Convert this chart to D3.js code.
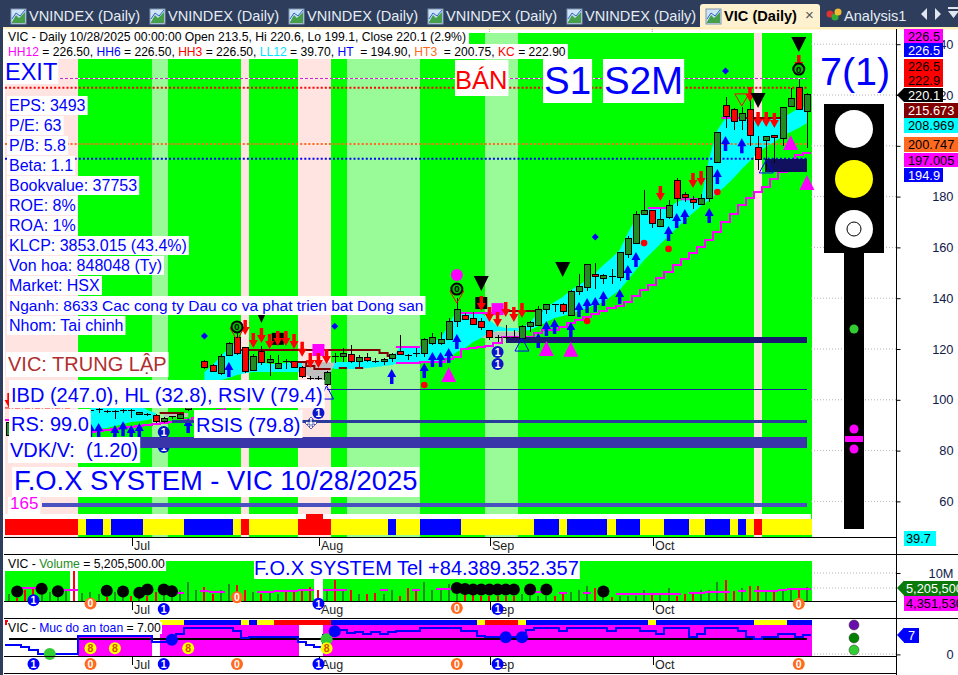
<!DOCTYPE html>
<html>
<head>
<meta charset="utf-8">
<script src="https://cdn.jsdelivr.net/npm/d3@7/dist/d3.min.js"></script>
<style>
html,body{margin:0;padding:0;background:#fff;overflow:hidden}
svg{display:block;font-family:"Liberation Sans",Arial,sans-serif}
</style>
</head>
<body>
<script>
// ---------- DATA ----------
const symbol = "VIC";
const monthLabels = ["Jul","Aug","Sep","Oct"];
const monthBars = [15,38,59,79];
const priceTicks = [60,80,100,120,140,160,180,200,220,240];
const tabs = ["VNINDEX (Daily)","VNINDEX (Daily)","VNINDEX (Daily)","VNINDEX (Daily)","VNINDEX (Daily)"];

const opens = [86.1,90.5,91.0,90.6,91.5,92.0,92.8,93.0,94.0,95.0,95.7,96.0,95.6,95.2,95.6,95.7,94.4,94.5,94.0,91.3,93.2,92.8,96.0,100.0,
114.9,113.7,110.5,117.6,124.7,120.4,111.7,119.2,114.5,112.5,115.3,114.9,112.9,108.6,108.5,106.2,117.2,117.2,118.0,114.9,116.8,115.3,114.9,116.1,119.2,117.6,118.4,118.4,122.0,122.0,123.9,131.0,133.0,132.2,131.0,127.1,124.7,124.7,124.7,124.3,128.7,129.4,135.4,137.7,137.7,133.0,142.8,144.4,149.5,147.6,148.7,148.3,157.4,161.7,173.1,174.7,168.4,171.6,186.5,181.0,179.0,176.7,179.4,193.6,215.7,214.1,209.8,214.1,199.5,201.9,203.9,202.7,215.3,222.8,213.5];
const highs = [91.5,91.0,91.5,91.0,92.3,92.8,93.6,94.0,94.5,96.0,96.4,96.6,96.0,96.0,96.2,96.4,95.3,94.7,94.4,93.2,93.8,95.0,97.2,104.5,
115.5,113.9,118.0,122.8,126.3,120.8,118.0,121.2,117.6,117.6,116.1,115.3,113.3,109.4,109.4,111.3,118.4,120.4,121.6,117.6,118.4,116.4,116.4,118.4,125.5,118.0,120.4,124.3,126.3,126.7,132.2,140.1,134.2,134.6,132.2,127.5,125.5,129.4,127.5,129.4,131.0,136.9,137.7,137.7,138.0,143.2,149.5,153.1,153.9,149.5,151.5,157.8,164.5,174.3,182.6,174.7,175.1,178.7,187.3,181.8,180.2,181.0,192.0,205.4,219.2,214.9,215.3,222.8,203.9,203.5,203.9,214.9,222.8,226.3,220.6];
const lows = [85.8,89.5,90.0,89.8,91.2,91.6,92.4,92.6,93.0,94.5,94.8,95.0,94.8,92.5,94.9,92.9,94.0,93.6,90.9,91.0,92.6,92.4,95.6,99.0,
112.1,111.0,109.8,117.2,117.6,110.5,111.3,113.7,109.4,112.5,112.1,112.5,108.6,107.0,107.4,105.4,114.5,114.9,114.5,112.9,114.9,114.5,113.7,114.9,117.6,115.7,116.8,116.8,121.6,121.6,123.5,128.7,131.4,129.4,127.5,123.5,122.8,123.9,124.3,123.9,126.7,129.0,133.8,134.6,133.8,133.0,141.3,142.8,143.6,145.6,145.6,146.8,155.8,161.3,173.1,167.6,168.4,171.2,176.3,177.9,175.1,176.7,177.9,193.2,207.0,206.2,206.2,199.9,190.5,190.5,193.2,199.9,215.3,214.1,199.1];
const closes = [90.9,90.1,90.5,90.2,91.8,92.4,93.2,93.5,93.6,95.5,95.8,96.1,95.5,95.4,95.7,95.6,95.0,94.2,91.3,92.8,93.3,94.4,96.8,104.0,
112.9,111.3,117.2,122.0,118.4,111.3,117.2,114.5,115.7,114.1,115.1,112.9,109.0,108.5,108.4,110.9,117.1,118.4,114.9,116.8,115.3,115.2,115.7,118.0,118.0,117.5,118.3,123.9,124.7,123.9,131.0,135.4,131.8,129.8,128.3,124.7,124.6,124.4,124.5,129.0,130.6,135.7,137.7,137.6,134.6,142.8,144.8,153.1,148.7,149.1,148.6,157.8,163.7,172.8,174.7,169.6,170.8,176.3,179.4,179.8,177.5,179.4,192.0,205.4,211.7,209.4,212.9,203.9,194.8,203.5,203.1,214.9,218.8,214.1,220.1];
const volumesM = [2.8,1.3,3.9,4.5,3.9,3.3,3.0,3.9,10.7,3.0,3.3,2.7,1.5,3.3,3.0,2.1,2.7,1.8,3.3,3.9,3.3,3.9,6.9,3.9,5.1,2.5,3.9,6.1,5.7,3.9,3.3,2.7,3.3,2.7,3.3,4.2,3.9,5.1,3.9,4.5,7.7,3.9,3.9,2.5,2.7,3.0,2.7,3.9,2.1,4.9,4.5,7.0,3.9,4.9,6.3,3.9,5.1,2.5,2.1,2.1,2.1,1.8,1.8,2.5,2.1,2.1,2.1,1.8,3.0,3.3,3.9,5.4,4.6,3.9,1.5,2.1,2.1,2.1,4.2,2.7,2.7,4.6,2.1,2.7,2.5,3.9,3.9,6.9,7.5,3.7,4.9,5.4,5.4,3.9,3.9,4.3,3.9,3.9,5.2055];
const volumeAvgM = [null,null,4.9,4.9,null,null,null,3.9,3.9,null,null,null,null,null,null,null,null,null,null,null,null,3.1,null,null,3.6,3.5,3.5,null,null,null,null,3.3,3.3,3.7,3.7,3.7,4.2,4.2,null,4.2,4.2,4.2,null,null,null,null,4.2,null,null,null,3.9,null,null,4.5,4.5,null,null,null,null,null,null,null,null,null,null,3.3,null,null,3.1,null,null,3.1,null,null,null,2.7,2.7,2.7,2.7,2.7,2.7,2.7,2.7,null,3.1,3.1,3.3,3.3,3.3,null,3.7,null,3.7,3.7,3.7,4.2,4.35,4.35,4.35];
const safetyLevel = [3.4,3.4,2.6,1.5,0.2,0.2,0.2,0.2,0.2,6.5,6.5,6.5,6.5,6.5,6.5,6.5,6.5,6.5,4.4,4.4,6.2,7.2,9.4,9.4,9.4,9.4,9.4,9.4,8.4,5.7,6.2,6.2,6.2,6.2,6.2,6.2,4.4,3.5,2.6,6.8,8.6,8.6,7.4,7.8,7.2,7.8,7.2,7.8,8.4,8.4,8.4,9.4,9.4,9.4,9.4,9.4,8.4,8.4,6.5,6.2,6.2,6.2,6.2,6.2,8.6,9.5,9.5,9.5,8.4,9.5,9.5,9.5,9.5,9.5,8.4,9.5,9.5,9.5,8.4,8.4,7.2,9.5,9.5,9.5,6.0,7.2,9.5,9.5,9.5,9.5,8.4,6.0,5.4,6.2,6.2,7.2,7.2,6.2,7.0];
const safetyBase = 5.5;
const safetyFill = [null,null,null,null,null,null,null,null,null,6.7,6.7,6.7,6.7,6.7,6.7,6.7,6.7,6.7,null,10.4,10.4,10.4,10.4,10.4,10.4,10.4,10.4,10.4,10.4,10.4,10.4,10.4,10.4,10.4,10.4,10.4,null,null,null,10.4,10.4,10.4,10.4,10.4,10.4,10.4,10.4,10.4,10.4,10.4,10.4,10.4,10.4,10.4,10.4,10.4,10.4,10.4,10.4,10.4,10.4,10.4,10.4,10.4,10.4,10.4,10.4,10.4,10.4,10.4,10.4,10.4,10.4,10.4,10.4,10.4,10.4,10.4,10.4,10.4,10.4,10.4,10.4,10.4,10.4,10.4,10.4,10.4,10.4,10.4,10.4,10.4,10.4,10.4,10.4,10.4,10.4,10.4,10.4];

const bandTop = [null,null,null,null,null,null,null,null,null,null,97.9,97.9,97.9,97.9,97.9,97.9,97.9,96.0,94.8,null,null,null,null,null,110.9,113.7,117.2,120.4,122.8,117.6,113.7,114.9,114.1,114.1,114.5,114.9,114.5,null,null,113.7,114.9,114.9,114.9,115.3,115.3,115.3,115.7,116.4,120.8,120.8,120.8,121.6,122.8,124.3,129.4,135.4,134.2,134.2,134.2,131.4,129.0,128.3,128.3,128.3,130.6,134.2,136.5,138.5,140.5,143.2,145.2,147.2,149.9,153.1,155.8,159.0,165.7,171.6,174.7,175.1,175.1,175.5,177.9,179.0,179.0,179.0,195.2,206.2,210.9,210.9,210.9,210.9,210.9,210.9,210.9,210.9,212.9,214.9,215.673];
const bandBottom = [null,null,null,null,null,null,null,null,null,null,88.1,88.5,88.9,89.7,90.5,91.3,91.6,92.0,92.8,null,null,null,null,null,106.2,107.0,107.8,108.6,109.8,110.5,110.9,110.9,110.9,110.9,110.9,110.9,110.9,null,null,113.7,112.1,112.1,112.1,112.1,112.5,112.9,113.3,113.7,114.5,114.5,114.5,114.5,115.3,115.3,116.4,118.8,120.4,122.8,124.3,126.3,127.1,127.1,127.1,127.1,127.5,129.0,130.6,132.2,133.0,133.8,135.0,136.1,137.3,138.5,140.9,143.2,147.2,151.1,155.0,158.2,161.3,164.5,167.6,170.8,173.5,176.3,178.7,181.4,184.2,187.3,190.9,194.0,197.6,199.5,201.5,203.9,205.4,207.0,208.969];
const grayBars = [19,20,21,22,36,37,38,39,40,58,59,60,61,62,63,64];
const grayTop = [94.8,94.8,94.8,94.8,114.5,114.9,114.9,114.9,114.5,124.3,126.7,126.7,126.7,126.7,126.7,124.3];
const grayBottom = [93.2,93.2,93.2,93.2,110.9,108.6,107.0,107.0,114.5,124.3,124.3,124.3,124.3,124.3,124.3,124.3];
const darkLineBars = [19,20,21,29,30,31,32,33,34,35,36,37,38,39,40,41,42,43,44,45,46,47,61,62,63,64,65,91,92,93,94,95];
const darkLineVals = [94.8,94.8,94.8,119.6,119.6,119.6,119.6,119.6,119.6,119.6,119.6,119.6,119.6,119.6,119.6,119.6,119.6,119.6,119.6,119.6,118.4,117.2,135.0,135.0,135.0,135.0,135.0,210.9,210.9,210.9,210.9,210.9];
const darkLowBars = [35,36,37,38,39,41,43];
const darkLowVals = [114.9,114.9,113.3,112.1,112.1,112.5,112.5];
const topMagentaBars = [48,49,50,56,57,58,59,60,79,80,81,83,84,85,88,89,90];
const topMagentaVals = [120.8,120.8,120.8,134.2,134.2,134.2,134.2,134.2,175.5,175.5,175.5,179.0,179.0,179.0,210.9,210.9,210.9];
const stepLine = [92,92,92,92,92,92,92,92,92,92,87.3,87.7,88.1,88.5,88.9,89.3,89.7,90.1,90.5,90.9,91.3,91.6,92.0,92.8,94.0,95.2,96.0,97.9,99.9,100.7,101.5,102.3,103.1,103.9,104.6,105.4,105.8,106.2,106.2,null,null,null,null,null,null,null,null,null,114.5,114.5,114.5,114.9,114.9,114.9,116.1,116.9,120.0,120.4,120.8,121.2,122.4,124.7,124.7,124.7,124.7,126.3,127.5,127.5,128.7,130.2,131.4,132.6,133.8,135.0,136.1,136.9,138.5,140.9,143.2,145.2,148.0,150.3,153.1,155.4,157.8,160.2,162.9,166.1,170.0,173.1,176.7,179.4,181.8,183.8,186.9,189.7,191.7,196.4,197.005];

const levelHH = 226.5, levelKC = 222.9, levelHT3 = 200.75, levelHT = 194.9;
const supportVals = [123.5,103.9,91.3,83.0,58.6];
const supportStart = [61,39,20,16,4];
const blockBar = 93, blockPrice = 192.3;
const redDashVal = 96.8, redDashBars = [0,8];

const blueUpBars = [10,11,13,14,15,16,22,27,47,51,52,53,54,55,65,66,67,69,70,71,72,73,75,76,77,81,82,83,86,87,88,90];
const blueUpTips = [90.9,90.9,90.1,91.6,90.1,90.9,92.8,114.9,112.1,114.5,118.8,118.8,120.4,125.9,126.3,131.0,131.8,130.6,138.5,140.1,140.5,142.8,143.6,153.1,158.2,168.4,173.5,175.1,175.5,190.9,203.9,203.0];
const redDownBars = [0,29,30,31,32,33,34,35,36,37,38,39,58,59,60,61,62,63,80,84,85,91,92,93,94,97];
const redDownTips = [96.8,125.5,120.4,122.4,120.0,121.2,121.2,120.0,116.9,112.5,112.5,114.1,135.0,130.6,128.7,132.6,130.6,132.2,178.3,183.4,184.2,217.2,207.4,207.4,207.0,229.8];
const magentaTriBars = [54,66,69,96,98];
const magentaTriBase = [107.0,117.2,116.9,198.3,182.6];
const blackTriBars = [31,58,68,92,97];
const blackTriTips = [130.2,142.8,148.3,214.9,236.9];
const blackSquareBars = [33,58];
const blackSquareVals = [124.0,138.1];
const magentaSquareBars = [38,60];
const magentaSquareVals = [119.6,135.7];
const magentaDotBars = [55];
const magentaDotVals = [149.1];
const zeroBadgeBars = [28,55,97];
const zeroBadgeVals = [128.7,143.6,230.2];
const redOutlineBars = [28,55,90];
const redOutlineTips = [123.5,138.1,215.7];
const blueOutlineBars = [39,63,93];
const blueOutlineBase = [100.3,119.2,189.3];
const blueDiamondBars = [24,40,72,88];
const blueDiamondVals = [125.1,129.0,164.1,229.4];
const redDotBars = [51,71,78,81,87];
const redDotVals = [105.8,131.0,161.7,159.4,181.8];
const oneBadgeBars = [19,19,38,60,60];
const oneBadgeVals = [87.3,81.4,94.8,118.8,114.1];

const volBlackBars = [1,4,6,12,14,16,17,19,20,55,56,57,58,59,60,61,62,64,66,73];
const volBlackVals = [3.5,4.5,3.6,3.8,3.5,3.1,4.2,4.2,3.6,4.7,4.4,4.2,4.2,4.2,4.2,4.2,4.2,4.2,4.2,3.5];
const volOneBars = [3,19,38,60];
const volOneVals = [0.4,-2.6,-0.8,-2.6];
const volZeroBars = [10,28,55,97];
const volZeroVals = [-0.7,1.5,-2.3,-0.8];
const safeOneBars = [3,19,38,60];
const safeZeroBars = [10,28,55,97];
const safeBadgeVal = -3.4;
const safeEightBars = [10,13,22,39];
const safeEightVal = 2.2;
const safeGreenBars = [5,39];
const safeGreenVals = [0.1,5.4];
const safeBlueBars = [20,40,61,63];
const safeBlueVals = [5.2,8.2,6.1,6.1];

const regimeRuns = [["p",9],["g",9],["l",2],["g",9],["p",1],["g",6],["p",4],["g",2],["l",9],["g",8],["l",4],["g",29],["p",1],["g",6]];
const stripRuns = [["r",9],["y",1],["b",2],["y",1],["b",4],["y",5],["b",6],["y",1],["r",1],["y",6],["r",4],["y",7],["b",1],["y",3],["b",5],["y",9],["b",3],["y",1],["b",5],["y",1],["b",3],["y",3],["b",3],["y",2],["b",3],["y",1],["b",1],["y",1],["r",1],["y",6]];
const safetyStripRuns = [["n",19],["y",3],["b",7],["y",1],["b",1],["y",2],["r",7],["b",18],["y",1],["r",4],["y",1],["b",15],["y",1],["b",12],["y",4],["b",3]];

const infoLines = ["EPS: 3493","P/E: 63","P/B: 5.8","Beta: 1.1","Bookvalue: 37753","ROE: 8%","ROA: 1%","KLCP: 3853.015 (43.4%)","Von hoa: 848048 (Ty)","Market: HSX","Nganh: 8633 Cac cong ty Dau co va phat trien bat Dong san","Nhom: Tai chinh"];
const priceTags = [["226.5","#ff00ff","#000"],["226.5","#0000ff","#fff"],["226.5","#ff0000","#000"],["222.9","#ff0000","#000"],["220.1","#000","#fff"],["215.673","#800000","#fff"],["208.969","#00ffff","#000"],["200.747","#ff6a20","#000"],["197.005","#ff00ff","#000"],["194.9","#0000ff","#fff"]];

// ---------- SCALES ----------
const W = 958, H = 675;
const barIdx = d3.range(closes.length);
const x = d3.scaleBand().domain(barIdx).range([5,811]);
const bw = x.bandwidth();
const cx = i => x(i) + bw/2;
const y = d3.scaleLinear().domain([60,240]).range([501.4,44.2]);
const yVol = d3.scaleLinear().domain([0,10]).range([601.5,573]);
const ySafe = d3.scaleLinear().domain([0,7]).range([654.4,634.6]);
const expand = runs => runs.flatMap(([c,n]) => d3.range(n).map(() => c));
const regime = expand(regimeRuns), strip = expand(stripRuns), safeStrip = expand(safetyStripRuns);
const regimeColor = {p:"#ffe4e1",g:"#00ff00",l:"#98fb98"};
const stripColor = {r:"#ff0000",y:"#ffff00",b:"#0000ff"};
const UP = "#228b22", DOWN = "#ff0000";

const svg = d3.select("body").append("svg").attr("width",W).attr("height",H);
const crisp = g => g.attr("shape-rendering","crispEdges");
const isUp = i => closes[i] >= opens[i];

// ---------- FRAME / TABS ----------
svg.append("rect").attr("width",W).attr("height",27).attr("fill","#2d3d5b");
svg.append("rect").attr("width",3).attr("height",H).attr("fill","#2d3d5b");
svg.append("rect").attr("x",3).attr("y",27).attr("width",W-3).attr("height",2.5).attr("fill","#fdeebb");
function icon(g,px){
  g.append("rect").attr("x",px).attr("y",9).attr("width",15).attr("height",15).attr("fill","#cfe4f7").attr("stroke","#7f93b0");
  g.append("path").attr("d",`M${px+1} 22L${px+5} 15L${px+8} 18L${px+14} 12V23H${px+1}Z`).attr("fill","#46a04a");
  g.append("path").attr("d",`M${px+1} 19L${px+5} 13L${px+9} 16L${px+14} 10`).attr("fill","none").attr("stroke","#2a62c9");
}
const tabG = svg.append("g");
const tabX = [11,150,289,428,567];
tabs.forEach((t,k)=>{
  icon(tabG,tabX[k]);
  tabG.append("text").attr("x",tabX[k]+18).attr("y",21).attr("font-size",14.6).attr("fill","#e6edf5").text(t);
});
tabG.append("path").attr("d","M700 27V7Q700 4 703 4H817Q820 4 820 7V27Z").attr("fill","#fdf1cf");
icon(tabG,706);
tabG.append("text").attr("x",724).attr("y",21).attr("font-size",14.6).attr("font-weight","bold").attr("fill","#000").text("VIC (Daily)");
tabG.append("text").attr("x",805).attr("y",20).attr("font-size",15).attr("fill","#555").text("×");
tabG.append("circle").attr("cx",830).attr("cy",14).attr("r",3.5).attr("fill","#d33");
tabG.append("circle").attr("cx",835).attr("cy",17).attr("r",3.5).attr("fill","#3a3");
tabG.append("circle").attr("cx",838).attr("cy",12).attr("r",3.5).attr("fill","#eb3");
tabG.append("text").attr("x",844).attr("y",21).attr("font-size",14.6).attr("fill","#e6edf5").text("Analysis1");
tabG.append("path").attr("d","M921 14l6-6v12ZM935 8l6 6l-6 6ZM948 11h11l-5.5 7Z").attr("fill","#dfe6ef");
tabG.append("path").attr("d","M948 7h11v2h-11Z").attr("fill","#dfe6ef");

// ---------- BACKGROUND BANDS ----------
const bg = svg.append("g").call(crisp);
bg.selectAll("rect").data(barIdx).join("rect")
  .attr("x",i=>x(i)).attr("y",33).attr("width",bw+0.5).attr("height",537-33)
  .attr("fill",i=>regimeColor[regime[i]]);

// grid dots right of chart
const grid = svg.append("g");
priceTicks.forEach(v=>{
  grid.append("line").attr("x1",811).attr("x2",897).attr("y1",y(v)).attr("y2",y(v))
    .attr("stroke","#b5b5b5").attr("stroke-dasharray","1 2");
});
[573,588,654].forEach(v=>{
  grid.append("line").attr("x1",811).attr("x2",897).attr("y1",v).attr("y2",v)
    .attr("stroke","#b5b5b5").attr("stroke-dasharray","1 2");
});
monthBars.forEach(b=>{
  grid.append("line").attr("x1",cx(b)).attr("x2",cx(b)).attr("y1",29).attr("y2",33)
    .attr("stroke","#aaa").attr("stroke-dasharray","1 1");
});

// ---------- CYAN / GRAY BANDS ----------
const bandArea = d3.area().defined(i=>bandTop[i]!=null)
  .x(cx).y0(i=>y(bandBottom[i])).y1(i=>y(bandTop[i]));
svg.append("path").attr("d",bandArea(barIdx)).attr("fill","#00ffff");
const grayArea = d3.area().x((b)=>cx(b)).y0((b)=>y(grayBottom[grayBars.indexOf(b)])).y1((b)=>y(grayTop[grayBars.indexOf(b)]));
[grayBars.slice(0,4),grayBars.slice(4,9),grayBars.slice(9)].forEach(seg=>{
  svg.append("path").attr("d",grayArea(seg)).attr("fill","#c0c0c0");
});

// dotted levels
const lv = svg.append("g");
lv.append("line").attr("x1",5).attr("x2",807).attr("y1",y(levelHH)).attr("y2",y(levelHH)).attr("stroke","#fff");
lv.append("line").attr("x1",5).attr("x2",807).attr("y1",y(levelHH)).attr("y2",y(levelHH)).attr("stroke","#d020d0").attr("stroke-dasharray","3 2");
lv.append("line").attr("x1",5).attr("x2",807).attr("y1",y(levelKC)).attr("y2",y(levelKC)).attr("stroke","#ff0000").attr("stroke-width",2).attr("stroke-dasharray","2 2.1");
lv.append("line").attr("x1",5).attr("x2",807).attr("y1",y(levelHT3)).attr("y2",y(levelHT3)).attr("stroke","#ff6a20").attr("stroke-width",2).attr("stroke-dasharray","2 2.1");
lv.append("line").attr("x1",5).attr("x2",807).attr("y1",y(levelHT)).attr("y2",y(levelHT)).attr("stroke","#0000ff").attr("stroke-width",2).attr("stroke-dasharray","2 2.1");
lv.append("line").attr("x1",x(redDashBars[0])).attr("x2",x(redDashBars[1])).attr("y1",y(redDashVal)).attr("y2",y(redDashVal)).attr("stroke","#ff0000").attr("stroke-dasharray","5 2 1 2");

// ---------- LINES ----------
const stepPts = (bars,vals,yy) => bars.flatMap((b,k)=>vals[k]==null?[{d:false}]:[{d:true,x:x(b),y:yy(vals[k]),b},{d:true,x:x(b)+bw,y:yy(vals[k]),b}]);
const ln = d3.line().defined(d=>d.d).x(d=>d.x).y(d=>d.y);
function segmented(bars,vals,color,w){
  let pts=[];
  bars.forEach((b,k)=>{
    if(k>0 && b!==bars[k-1]+1) pts.push({d:false});
    pts.push({d:true,x:x(b),y:y(vals[k])},{d:true,x:x(b)+bw,y:y(vals[k])});
  });
  svg.append("path").attr("d",ln(pts)).attr("fill","none").attr("stroke",color).attr("stroke-width",w);
}
svg.append("path").attr("d",ln(stepPts(barIdx,stepLine,y))).attr("fill","none").attr("stroke","#ff00ff").attr("stroke-width",2).call(crisp);
segmented(darkLineBars,darkLineVals,"#800000",2);
segmented(darkLowBars,darkLowVals,"#800000",2);
segmented(topMagentaBars,topMagentaVals,"#ff00ff",2);

// ---------- MARKERS ----------
const arrowUp = "M0 0L4.5 8H1.75V15H-1.75V8H-4.5Z";
const arrowDown = "M0 0L-4.5 -8H-1.75V-15H1.75V-8H4.5Z";
const mk = svg.append("g");
mk.selectAll("path.bu").data(blueUpBars).join("path").attr("class","bu")
  .attr("d",arrowUp).attr("fill","#0000ff")
  .attr("transform",(b,k)=>`translate(${cx(b)},${y(blueUpTips[k])})`);

function badge(g,px,py,t,bgc,fg,r,ring){
  g.append("circle").attr("cx",px).attr("cy",py).attr("r",r).attr("fill",bgc).attr("stroke",ring||bgc).attr("stroke-width",ring?2:0);
  g.append("text").attr("x",px).attr("y",py+r*0.62).attr("text-anchor","middle").attr("font-size",r*1.75).attr("font-weight","bold").attr("fill",fg).text(t);
}
oneBadgeBars.forEach((b,k)=>badge(mk,cx(b),y(oneBadgeVals[k]),"1","#0a14c8","#fff",6));

// support lines
const sl = svg.append("g").call(crisp);
const supportColor = ["#191970","#2020a0","#2a3a9a","#3a35a8","#4a50c0"];
const supportWidth = [6,1,3,11,4];
supportVals.forEach((v,k)=>{
  sl.append("line").attr("x1",cx(supportStart[k])).attr("x2",807).attr("y1",y(v)).attr("y2",y(v))
    .attr("stroke",supportColor[k]).attr("stroke-width",supportWidth[k]);
});
sl.append("line").attr("x1",cx(blockBar)-1).attr("x2",807).attr("y1",y(blockPrice)).attr("y2",y(blockPrice)).attr("stroke","#10105e").attr("stroke-width",13);

// ---------- CANDLES ----------
const cs = svg.append("g").selectAll("g").data(barIdx).join("g").call(crisp);
cs.append("line").attr("x1",i=>Math.round(cx(i))).attr("x2",i=>Math.round(cx(i)))
  .attr("y1",i=>y(highs[i])).attr("y2",i=>y(lows[i])).attr("stroke","#000");
cs.filter(i=>Math.abs(opens[i]-closes[i])>=0.3).append("rect")
  .attr("x",i=>Math.round(cx(i))-3).attr("width",6)
  .attr("y",i=>y(Math.max(opens[i],closes[i])))
  .attr("height",i=>Math.max(1,Math.abs(y(opens[i])-y(closes[i]))))
  .attr("fill",i=>isUp(i)?UP:DOWN).attr("stroke","#000");
cs.filter(i=>Math.abs(opens[i]-closes[i])<0.3).append("line")
  .attr("x1",i=>Math.round(cx(i))-3).attr("x2",i=>Math.round(cx(i))+4)
  .attr("y1",i=>y(closes[i])).attr("y2",i=>y(closes[i])).attr("stroke","#000");

// ---------- OTHER MARKERS ----------
const m2 = svg.append("g");
m2.selectAll("rect.bs").data(blackSquareBars).join("rect").attr("class","bs")
  .attr("x",b=>cx(b)-6).attr("width",12).attr("height",12)
  .attr("y",(b,k)=>y(blackSquareVals[k])-6).attr("fill","#000");
m2.selectAll("rect.ms").data(magentaSquareBars).join("rect").attr("class","ms")
  .attr("x",b=>cx(b)-6).attr("width",12).attr("height",12)
  .attr("y",(b,k)=>y(magentaSquareVals[k])-6).attr("fill","#ff00ff");
m2.selectAll("path.rd").data(redDownBars).join("path").attr("class","rd")
  .attr("d",arrowDown).attr("fill","#ff0000")
  .attr("transform",(b,k)=>`translate(${cx(b)},${y(redDownTips[k])})`);
m2.selectAll("path.mt").data(magentaTriBars).join("path").attr("class","mt")
  .attr("d","M0 -15L7.5 0H-7.5Z").attr("fill","#ff00ff")
  .attr("transform",(b,k)=>`translate(${cx(b)},${y(magentaTriBase[k])})`);
m2.selectAll("path.bt").data(blackTriBars).join("path").attr("class","bt")
  .attr("d",b=>b===31?"M0 0L4.5 -10H-4.5Z":"M0 0L7.5 -15H-7.5Z").attr("fill","#000")
  .attr("transform",(b,k)=>`translate(${cx(b)},${y(blackTriTips[k])})`);
m2.selectAll("path.ro").data(redOutlineBars).join("path").attr("class","ro")
  .attr("d","M0 0L7 -12H-7Z").attr("fill","none").attr("stroke","#ff0000")
  .attr("transform",(b,k)=>`translate(${cx(b)},${y(redOutlineTips[k])})`);
m2.selectAll("path.bo").data(blueOutlineBars).join("path").attr("class","bo")
  .attr("d","M0 -13L7 0H-7Z").attr("fill","none").attr("stroke","#0000ff")
  .attr("transform",(b,k)=>`translate(${cx(b)},${y(blueOutlineBase[k])})`);
m2.selectAll("path.bd").data(blueDiamondBars).join("path").attr("class","bd")
  .attr("d","M0 -3.5L3.5 0L0 3.5L-3.5 0Z").attr("fill","#0000ff")
  .attr("transform",(b,k)=>`translate(${cx(b)},${y(blueDiamondVals[k])})`);
m2.selectAll("circle.rdot").data(redDotBars).join("circle").attr("class","rdot")
  .attr("r",3.3).attr("fill","#ff0000").attr("cx",cx).attr("cy",(b,k)=>y(redDotVals[k]));
m2.selectAll("circle.mdot").data(magentaDotBars).join("circle").attr("class","mdot")
  .attr("r",6).attr("fill","#ff00ff").attr("cx",cx).attr("cy",(b,k)=>y(magentaDotVals[k]));
zeroBadgeBars.forEach((b,k)=>badge(m2,cx(b),y(zeroBadgeVals[k]),"0","#00c000","#000",5.5,"#000"));

// ---------- TEXT WITH WHITE BOXES ----------
let tg = svg.append("g");
function boxed(parts,px,py,size,opt={}){
  const g = tg.append("g");
  const r = g.append("rect").attr("fill","#fff");
  const t = g.append("text").attr("x",px).attr("y",py).attr("font-size",size);
  (Array.isArray(parts)?parts:[[parts,opt.color||"#0000ff"]]).forEach(([s,c])=>{
    t.append("tspan").attr("fill",c).text(s);
  });
  t.style("white-space","pre");
  const bb = t.node().getBBox();
  const pl = opt.pl==null?2:opt.pl, pr = opt.pr==null?2:opt.pr;
  r.attr("x",bb.x-pl).attr("width",bb.width+pl+pr)
   .attr("y",opt.top!=null?opt.top:py-size*0.95).attr("height",opt.h!=null?opt.h:size*1.22);
  return g;
}
boxed("EXIT",5,80,23.5,{top:59,h:25,pl:0,pr:1});
boxed("BÁN",455,89,25.5,{color:"#ff0000",top:60,h:36,pl:0,pr:1});
boxed("S1",544,94,38.5,{top:59,h:44,pl:1,pr:1});
boxed("S2M",604,94,38.5,{top:59,h:44,pl:1,pr:1});
infoLines.forEach((t,k)=>boxed(t,9,111+20*k,k===10?15.5:16,{h:19,top:111+20*k-15}));
boxed("VIC: TRUNG LẬP",8,371,20,{color:"#b03030",top:352,h:25});
boxed("IBD (247.0), HL (32.8), RSIV (79.4)",11,402,20,{top:380,h:28});
boxed("RS: 99.0",11,431,20,{top:409,h:28});
boxed("RSIS (79.8)",196,432,20,{top:410,h:28});
boxed("VDK/V:  (1.20)",10,457,20,{top:437,h:26});
boxed("F.O.X SYSTEM - VIC 10/28/2025",14,490,27.4,{top:467,h:30});
boxed("165",10,509,17,{color:"#ff00ff",top:497,h:17});

// strip
const stripG = svg.append("g").call(crisp);
stripG.append("rect").attr("x",5).attr("y",514).attr("width",806).attr("height",5).attr("fill","#fff");
stripG.selectAll("rect.s").data(barIdx).join("rect").attr("class","s")
  .attr("x",i=>x(i)).attr("width",bw+0.5).attr("y",519).attr("height",16).attr("fill",i=>stripColor[strip[i]]);
stripG.append("rect").attr("x",x(37)).attr("y",514).attr("width",bw*2).attr("height",5).attr("fill","#ff0000");

// header
tg = svg.append("g");
boxed([["VIC - Daily 10/28/2025 00:00:00 Open 213.5, Hi 220.6, Lo 199.1, Close 220.1 (2.9%)","#000"]],8,41,12.2,{top:29.5,h:14.5,pl:4,pr:3});
boxed([["HH12","#ff00ff"],[" = 226.50, ","#000"],["HH6","#0000ff"],[" = 226.50, ","#000"],["HH3","#ff0000"],[" = 226.50, ","#000"],["LL12","#00e5ff"],[" = 39.70, ","#000"],["HT","#0000ff"],["  = 194.90, ","#000"],["HT3","#ff6a20"],["  = 200.75, ","#000"],["KC","#ff0000"],[" = 222.90","#000"]],8,56,12.1,{top:44,h:15,pl:4,pr:2});

// ---------- TRAFFIC LIGHT ----------
const tl = svg.append("g");
tl.append("text").attr("x",820).attr("y",85).attr("font-size",39.5).attr("fill","#0000ff").text("7(1)");
tl.append("rect").attr("x",824).attr("y",104).attr("width",60).attr("height",149).attr("fill","#000");
tl.append("rect").attr("x",844).attr("y",253).attr("width",20).attr("height",276).attr("fill","#000");
tl.append("circle").attr("cx",854).attr("cy",129).attr("r",19).attr("fill","#fff");
tl.append("circle").attr("cx",854).attr("cy",179).attr("r",19).attr("fill","#ffff00");
tl.append("circle").attr("cx",854).attr("cy",229).attr("r",19).attr("fill","#fff");
tl.append("circle").attr("cx",854).attr("cy",229).attr("r",7).attr("fill","#fff").attr("stroke","#000");
tl.append("circle").attr("cx",854).attr("cy",329).attr("r",4.5).attr("fill","#32cd32");
tl.append("circle").attr("cx",854).attr("cy",429).attr("r",4.5).attr("fill","#ff00ff");
tl.append("circle").attr("cx",854).attr("cy",449).attr("r",4.5).attr("fill","#ff00ff");
tl.append("rect").attr("x",845).attr("y",436).attr("width",18).attr("height",6).attr("fill","#ff00ff");

// ---------- VOLUME PANEL ----------
const vp = svg.append("g");
const vbg = vp.append("g").call(crisp);
vbg.selectAll("rect").data(barIdx).join("rect")
  .attr("x",i=>x(i)).attr("width",bw+0.5)
  .attr("y",i=>i<9?571:561).attr("height",i=>i<9?30:40)
  .attr("fill",i=>(i===8||i===38)?"#fff":"#00ff00");
const vb = vp.append("g").call(crisp);
vb.selectAll("rect").data(barIdx).join("rect")
  .attr("x",i=>Math.round(cx(i))-1).attr("width",2)
  .attr("y",i=>yVol(volumesM[i])).attr("height",i=>yVol(0)-yVol(volumesM[i]))
  .attr("fill",i=>isUp(i)?UP:DOWN);
vp.append("g").call(crisp).selectAll("line").data(barIdx.filter(i=>volumeAvgM[i]!=null)).join("line")
  .attr("x1",i=>x(i)).attr("x2",i=>x(i)+bw)
  .attr("y1",i=>yVol(volumeAvgM[i])).attr("y2",i=>yVol(volumeAvgM[i]))
  .attr("stroke","#ff00ff").attr("stroke-width",2);
vp.selectAll("circle.vb").data(volBlackBars).join("circle").attr("class","vb")
  .attr("r",6).attr("fill","#000").attr("cx",cx).attr("cy",(b,k)=>yVol(volBlackVals[k]));

// ---------- SAFETY PANEL ----------
const sp = svg.append("g");
sp.append("g").call(crisp).selectAll("rect").data(barIdx.filter(i=>safetyFill[i]!=null)).join("rect")
  .attr("x",i=>x(i)).attr("width",bw+0.5).attr("y",i=>ySafe(safetyFill[i]))
  .attr("height",i=>656-ySafe(safetyFill[i])).attr("fill","#ff00ff");
sp.append("g").call(crisp).selectAll("rect").data(barIdx.filter(i=>safeStrip[i]!=="n")).join("rect")
  .attr("x",i=>x(i)).attr("width",bw+0.5).attr("y",620).attr("height",5).attr("fill",i=>stripColor[safeStrip[i]]);
sp.append("rect").attr("x",5).attr("y",620).attr("width",3).attr("height",5).attr("fill","#ff0000");
sp.append("line").attr("x1",9).attr("x2",807).attr("y1",ySafe(safetyBase)).attr("y2",ySafe(safetyBase))
  .attr("stroke","#000").attr("stroke-width",2).call(crisp);
sp.append("path").attr("d",ln(stepPts(barIdx,safetyLevel,ySafe))).attr("fill","none").attr("stroke","#0000ff").attr("stroke-width",2).call(crisp);
sp.selectAll("circle.g").data(safeGreenBars).join("circle").attr("class","g")
  .attr("r",6).attr("fill","#32cd32").attr("cx",cx).attr("cy",(b,k)=>ySafe(safeGreenVals[k]));
sp.selectAll("circle.b").data(safeBlueBars).join("circle").attr("class","b")
  .attr("r",6).attr("fill","#0000ff").attr("cx",cx).attr("cy",(b,k)=>ySafe(safeBlueVals[k]));
safeEightBars.forEach(b=>badge(sp,cx(b),ySafe(safeEightVal),"8","#ffff00","#d05000",6));
[["#6a0dad",625],["#008000",638],["#32cd32",650]].forEach(([c,py])=>{
  sp.append("circle").attr("cx",854).attr("cy",py).attr("r",5).attr("fill",c).attr("stroke","#333").attr("stroke-width",0.5);
});

// panel headers (above the panels)
tg = svg.append("g");
boxed([[symbol+" - ","#000"],["Volume","#228b22"],[" = 5,205,500.00","#000"]],8,568,12.2,{top:558,h:13,pl:1,pr:1});
boxed([[symbol+" - ","#000"],["Muc do an toan","#0000ff"],[" = 7.00","#000"]],8,632,12.2,{top:622,h:12,pl:1,pr:1});
boxed("F.O.X SYSTEM Tel +84.389.352.357",254,575,20,{top:559,h:20,pl:0,pr:1});

// ---------- FRAME LINES ----------
const fr = svg.append("g").call(crisp);
[[537,897],[554,958],[601,897],[618,958],[656,897],[673,897]].forEach(([py,xe])=>{
  fr.append("line").attr("x1",4).attr("x2",xe).attr("y1",py).attr("y2",py).attr("stroke","#000");
});
fr.append("line").attr("x1",896.5).attr("x2",896.5).attr("y1",29).attr("y2",H).attr("stroke","#000");

// month ticks + labels
[[537,550],[601,614],[656,669]].forEach(([py,ty])=>{
  monthBars.forEach((b,k)=>{
    fr.append("line").attr("x1",Math.round(cx(b))+1).attr("x2",Math.round(cx(b))+1).attr("y1",py).attr("y2",py+9).attr("stroke","#000");
    svg.append("text").attr("x",Math.round(cx(b))+3).attr("y",ty).attr("font-size",12.5).attr("fill","#222").text(monthLabels[k]);
  });
});

// badges over the axis strips
const vBadge = svg.append("g");
volZeroBars.forEach((b,k)=>badge(vBadge,cx(b),yVol(volZeroVals[k]),"0","#ff6a20","#fff",6));
volOneBars.forEach((b,k)=>badge(vBadge,cx(b),yVol(volOneVals[k]),"1","#0000ff","#fff",6));
safeZeroBars.forEach(b=>badge(vBadge,cx(b),ySafe(safeBadgeVal),"0","#ff6a20","#fff",6));
safeOneBars.forEach(b=>badge(vBadge,cx(b),ySafe(safeBadgeVal),"1","#0000ff","#fff",6));

// ---------- RIGHT AXES ----------
const axisFmt = g => {
  g.select(".domain").remove();
  g.selectAll("line").attr("stroke","#000");
  g.selectAll("text").attr("text-anchor","end").attr("x",57).attr("font-size",12.8).attr("font-family","Liberation Sans").attr("fill","#10204a");
};
svg.append("g").attr("transform","translate(896.5,0)").call(d3.axisRight(y).tickValues(priceTicks).tickSize(4).tickFormat(d=>d===200?"":d3.format("d")(d))).call(axisFmt);
svg.append("g").attr("transform","translate(896.5,0)").call(d3.axisRight(yVol).tickValues([10]).tickSize(4).tickFormat(d=>d+"M")).call(axisFmt);
svg.append("g").attr("transform","translate(896.5,0)").call(d3.axisRight(ySafe).tickValues([0]).tickSize(4).tickFormat(d3.format("d"))).call(axisFmt);

// ---------- TAGS ----------
const tagG = svg.append("g");
const tagYs = [36,50,66,80,95,110.5,125.5,144.5,160,175];
const tagWide = [0,0,0,0,0,1,1,1,1,0];
priceTags.forEach(([t,c,f],k)=>{
  const w = tagWide[k]?54:39;
  const h = (k===5||k===6)?15:14.5;
  if(k===4) tagG.append("path").attr("d",`M897 ${tagYs[k]}L904 ${tagYs[k]-7}V${tagYs[k]+7}Z`).attr("fill",c);
  tagG.append("rect").attr("x",904).attr("y",tagYs[k]-h/2).attr("width",w).attr("height",h).attr("fill",c).attr("shape-rendering","crispEdges");
  tagG.append("text").attr("x",908).attr("y",tagYs[k]+4.5).attr("font-size",12.8).attr("fill",f).text(t);
});
function sideTag(t,yp,c,f,wd,arrow){
  if(arrow) tagG.append("path").attr("d",`M897 ${yp}L904 ${yp-7.5}V${yp+7.5}Z`).attr("fill",c);
  tagG.append("rect").attr("x",904).attr("y",yp-7.5).attr("width",wd).attr("height",15).attr("fill",c).attr("shape-rendering","crispEdges");
  tagG.append("text").attr("x",arrow&&wd<30?908:906).attr("y",yp+4.6).attr("font-size",12.8).attr("fill",f).text(t);
}
sideTag("39.7",538,"#00ffff","#000",32,false);
sideTag("5,205,500",588,"#0b7a0b","#fff",54,true);
sideTag("4,351,530",603,"#ff00ff","#000",54,false);
sideTag("7",635,"#0000ff","#fff",15,true);

// mouse cursor mark
svg.append("path").attr("d","M311 417l2.5 2.5h-1.5v2.5h2.5v-1.5l2.5 2.5l-2.5 2.5v-1.5h-2.5v2.5h1.5l-2.5 2.5l-2.5-2.5h1.5v-2.5h-2.5v1.5l-2.5-2.5l2.5-2.5v1.5h2.5v-2.5h-1.5Z")
  .attr("fill","#fff").attr("stroke","#2a3a9a").attr("stroke-width",0.8);
</script>
</body>
</html>
